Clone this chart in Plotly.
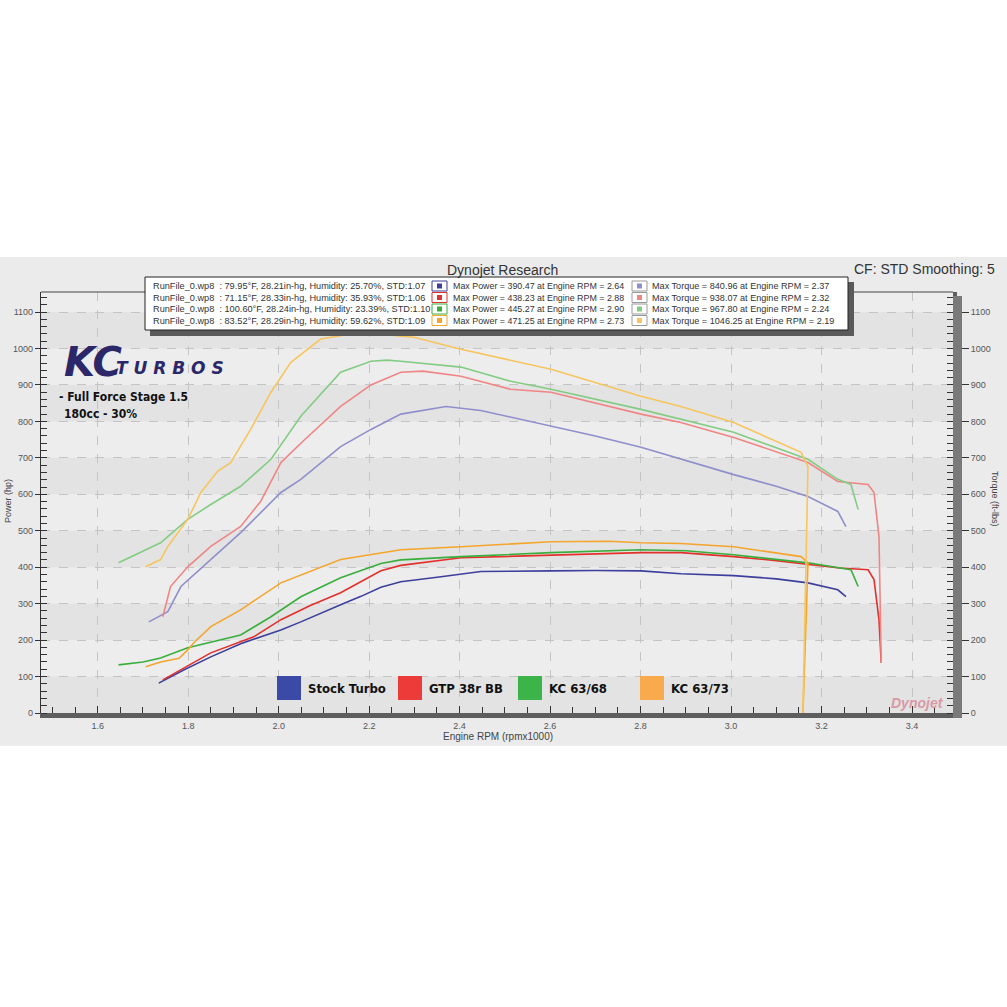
import plotly.graph_objects as go

# ---------------- data ----------------
series_names = ["Stock Turbo", "GTP 38r BB", "KC 63/68", "KC 63/73"]

stock_power_rpm = [1.735, 1.790, 1.850, 1.916, 2.005, 2.049, 2.137, 2.182, 2.226, 2.270, 2.359, 2.447, 2.602, 2.700, 2.801, 2.889, 3.006, 3.100, 3.170, 3.236, 3.254]
stock_power = [82, 118, 154, 190, 228, 250, 297, 320, 345, 360, 374, 388, 390, 391, 390, 382, 377, 368, 357, 338, 319]
stock_torque_rpm = [1.713, 1.755, 1.784, 1.850, 1.916, 2.005, 2.049, 2.137, 2.204, 2.270, 2.370, 2.447, 2.602, 2.700, 2.801, 2.889, 3.006, 3.100, 3.170, 3.236, 3.254]
stock_torque = [250, 278, 347, 421, 495, 605, 641, 731, 778, 820, 841, 830, 787, 760, 729, 696, 654, 622, 594, 553, 511]

gtp_power_rpm = [1.744, 1.800, 1.850, 1.945, 2.005, 2.070, 2.137, 2.226, 2.270, 2.403, 2.602, 2.801, 2.889, 3.006, 3.100, 3.170, 3.240, 3.303, 3.316, 3.327, 3.332]
gtp_power = [91, 130, 165, 209, 256, 295, 330, 390, 405, 426, 434, 440, 440, 429, 418, 407, 398, 393, 366, 256, 137]
gtp_torque_rpm = [1.744, 1.761, 1.799, 1.850, 1.916, 1.960, 2.005, 2.049, 2.137, 2.204, 2.270, 2.319, 2.403, 2.513, 2.602, 2.801, 2.889, 3.006, 3.170, 3.236, 3.303, 3.316, 3.327, 3.332]
gtp_torque = [264, 347, 401, 457, 512, 580, 687, 740, 841, 900, 935, 938, 924, 888, 880, 820, 797, 756, 687, 635, 627, 605, 484, 137]

kc68_power_rpm = [1.646, 1.700, 1.739, 1.799, 1.916, 1.983, 2.049, 2.137, 2.226, 2.270, 2.403, 2.602, 2.801, 2.900, 3.006, 3.170, 3.265, 3.281]
kc68_power = [132, 140, 151, 179, 214, 264, 319, 371, 410, 420, 429, 440, 448, 445, 434, 412, 393, 347]
kc68_torque_rpm = [1.646, 1.739, 1.799, 1.850, 1.916, 1.983, 2.049, 2.137, 2.204, 2.240, 2.270, 2.403, 2.513, 2.602, 2.801, 2.889, 3.006, 3.170, 3.236, 3.265, 3.281]
kc68_torque = [412, 467, 531, 572, 622, 696, 814, 935, 965, 968, 965, 949, 910, 888, 833, 806, 770, 696, 641, 627, 558]

kc73_power_rpm = [1.706, 1.739, 1.780, 1.799, 1.812, 1.850, 1.916, 2.005, 2.137, 2.270, 2.403, 2.602, 2.730, 2.801, 2.889, 3.006, 3.155, 3.170, 3.159]
kc73_power = [127, 140, 150, 173, 192, 237, 283, 357, 421, 448, 456, 470, 471, 467, 465, 456, 429, 412, 0]
kc73_torque_rpm = [1.706, 1.739, 1.755, 1.799, 1.828, 1.865, 1.894, 1.938, 1.983, 2.027, 2.093, 2.190, 2.270, 2.299, 2.403, 2.602, 2.801, 2.889, 3.006, 3.155, 3.170, 3.159]
kc73_torque = [401, 421, 457, 531, 605, 663, 687, 778, 880, 962, 1026, 1046, 1034, 1031, 998, 943, 869, 841, 797, 715, 676, 0]

run_info = [
    "RunFile_0.wp8\u00a0 : 79.95°F, 28.21in-hg, Humidity: 25.70%, STD:1.07",
    "RunFile_0.wp8\u00a0 : 71.15°F, 28.33in-hg, Humidity: 35.93%, STD:1.06",
    "RunFile_0.wp8\u00a0 : 100.60°F, 28.24in-hg, Humidity: 23.39%, STD:1.10",
    "RunFile_0.wp8\u00a0 : 83.52°F, 28.29in-hg, Humidity: 59.62%, STD:1.09",
]
max_power = ["390.47", "438.23", "445.27", "471.25"]
max_power_rpm = ["2.64", "2.88", "2.90", "2.73"]
max_torque = ["840.96", "938.07", "967.80", "1046.25"]
max_torque_rpm = ["2.37", "2.32", "2.24", "2.19"]

x_ticks = [1.6, 1.8, 2.0, 2.2, 2.4, 2.6, 2.8, 3.0, 3.2, 3.4]
y_ticks = list(range(0, 1101, 100))

# ---------------- styling / layout ----------------
W, H = 1007, 1007
L, R, T, B = 41, 953, 292, 713
X0 = 1.6 - (97.7 - L) / 452.4
X1 = 3.4 + (R - 912) / 452.4
YMAX = (B - T) / 0.3645

power_colors = ["#3d3f9c", "#e3302c", "#3aae3c", "#f4a52c"]
torque_colors = ["#8f8fcc", "#f08585", "#84cc84", "#f7c55e"]
legend_colors = ["#3b4aa6", "#ec3b38", "#3cb44a", "#f8aa4c"]

def fx(px):
    return (px - L) / (R - L)

def fy(py):
    return (B - py) / (B - T)

fig = go.Figure()

power = [(stock_power_rpm, stock_power), (gtp_power_rpm, gtp_power), (kc68_power_rpm, kc68_power), (kc73_power_rpm, kc73_power)]
torque = [(stock_torque_rpm, stock_torque), (gtp_torque_rpm, gtp_torque), (kc68_torque_rpm, kc68_torque), (kc73_torque_rpm, kc73_torque)]

for i, (xs, ys) in enumerate(torque):
    fig.add_trace(go.Scatter(x=xs, y=ys, mode="lines", yaxis="y2", name=series_names[i] + " torque",
                             line=dict(color=torque_colors[i], width=1.6), showlegend=False, hoverinfo="skip"))
for i, (xs, ys) in enumerate(power):
    fig.add_trace(go.Scatter(x=xs, y=ys, mode="lines", name=series_names[i] + " power",
                             line=dict(color=power_colors[i], width=1.6), showlegend=False, hoverinfo="skip"))

shapes = []
# chart gray background
shapes.append(dict(type="rect", xref="paper", yref="paper", x0=fx(0), x1=fx(1007), y0=fy(746), y1=fy(257),
                   fillcolor="#ebebeb", line=dict(width=0), layer="below"))
# plot background
shapes.append(dict(type="rect", xref="paper", yref="paper", x0=0, x1=1, y0=0, y1=1,
                   fillcolor="#ededed", line=dict(width=0), layer="below"))
# alternating bands
for k in range(0, 1200, 200):
    shapes.append(dict(type="rect", xref="paper", yref="y", x0=0, x1=1, y0=k, y1=min(k + 100, YMAX),
                       fillcolor="#e3e3e3", line=dict(width=0), layer="below"))
# top border
shapes.append(dict(type="line", xref="paper", yref="paper", x0=0, x1=1, y0=1, y1=1, line=dict(color="#444", width=1.2)))
# right thick bar shadow
shapes.append(dict(type="rect", xref="paper", yref="paper", x0=fx(953), x1=fx(962), y0=fy(718), y1=fy(296),
                   fillcolor="#7a7a7a", line=dict(width=0)))
# legend box shadow + box
shapes.append(dict(type="rect", xref="paper", yref="paper", x0=fx(150), x1=fx(854), y0=fy(336), y1=fy(282),
                   fillcolor="#5a5a5a", line=dict(width=0)))
shapes.append(dict(type="rect", xref="paper", yref="paper", x0=fx(145), x1=fx(848), y0=fy(330), y1=fy(277),
                   fillcolor="white", line=dict(color="#222", width=1)))

annotations = []
row_y = [286, 297.5, 309, 320.5]
def small_font(size):
    return dict(family="Liberation Sans, Arial", size=size, color="#333")
for i in range(4):
    yc = row_y[i]
    annotations.append(dict(xref="paper", yref="paper", x=fx(151), y=fy(yc), text=run_info[i],
                            showarrow=False, xanchor="left", yanchor="middle", font=small_font(9.2)))
    # power icon
    shapes.append(dict(type="rect", xref="paper", yref="paper", x0=fx(432), x1=fx(447), y0=fy(yc + 5), y1=fy(yc - 5),
                       fillcolor="white", line=dict(color=power_colors[i], width=1)))
    shapes.append(dict(type="rect", xref="paper", yref="paper", x0=fx(437), x1=fx(442), y0=fy(yc + 2.5), y1=fy(yc - 2.5),
                       fillcolor=power_colors[i], line=dict(width=0)))
    annotations.append(dict(xref="paper", yref="paper", x=fx(451), y=fy(yc),
                            text=f"Max Power = {max_power[i]} at Engine RPM = {max_power_rpm[i]}",
                            showarrow=False, xanchor="left", yanchor="middle", font=small_font(8.9)))
    # torque icon
    shapes.append(dict(type="rect", xref="paper", yref="paper", x0=fx(632), x1=fx(647), y0=fy(yc + 5), y1=fy(yc - 5),
                       fillcolor="white", line=dict(color="#9a9a9a", width=1)))
    shapes.append(dict(type="rect", xref="paper", yref="paper", x0=fx(637), x1=fx(642), y0=fy(yc + 2.5), y1=fy(yc - 2.5),
                       fillcolor=torque_colors[i], line=dict(width=0)))
    annotations.append(dict(xref="paper", yref="paper", x=fx(650), y=fy(yc),
                            text=f"Max Torque = {max_torque[i]} at Engine RPM = {max_torque_rpm[i]}",
                            showarrow=False, xanchor="left", yanchor="middle", font=small_font(9.1)))

# titles
annotations.append(dict(xref="paper", yref="paper", x=fx(503), y=fy(270), text="Dynojet Research", showarrow=False,
                        xanchor="center", yanchor="middle", font=dict(family="Liberation Sans, Arial", size=14, color="#333")))
annotations.append(dict(xref="paper", yref="paper", x=fx(997), y=fy(269), text="CF: STD Smoothing: 5", showarrow=False,
                        xanchor="right", yanchor="middle", font=dict(family="Liberation Sans, Arial", size=14, color="#333")))
# axis titles
annotations.append(dict(xref="paper", yref="paper", x=fx(8), y=fy(501), text="Power (hp)", showarrow=False, textangle=-90,
                        xanchor="center", yanchor="middle", font=dict(family="Liberation Sans, Arial", size=9, color="#444")))
annotations.append(dict(xref="paper", yref="paper", x=fx(995), y=fy(499), text="Torque (ft-lbs)", showarrow=False, textangle=90,
                        xanchor="center", yanchor="middle", font=dict(family="Liberation Sans, Arial", size=9, color="#444")))
annotations.append(dict(xref="paper", yref="paper", x=fx(498), y=fy(736), text="Engine RPM (rpmx1000)", showarrow=False,
                        xanchor="center", yanchor="middle", font=dict(family="Liberation Sans, Arial", size=10, color="#444")))

# logo
navy = "#2c2769"
annotations.append(dict(xref="paper", yref="paper", x=fx(62), y=fy(362), text="<b><i>KC</i></b>", showarrow=False,
                        xanchor="left", yanchor="middle", font=dict(family="DejaVu Sans, Arial", size=40, color=navy)))
annotations.append(dict(xref="paper", yref="paper", x=fx(114), y=fy(368), text="<b><i>T U R B O S</i></b>", showarrow=False,
                        xanchor="left", yanchor="middle", font=dict(family="DejaVu Sans, Arial", size=17, color=navy)))
bold_narrow = "DejaVu Sans Condensed, Liberation Sans, Arial Narrow, sans-serif"
annotations.append(dict(xref="paper", yref="paper", x=fx(57), y=fy(397), text="<b>- Full Force Stage 1.5</b>", showarrow=False,
                        xanchor="left", yanchor="middle", font=dict(family=bold_narrow, size=12, color="#111")))
annotations.append(dict(xref="paper", yref="paper", x=fx(62), y=fy(414), text="<b>180cc - 30%</b>", showarrow=False,
                        xanchor="left", yanchor="middle", font=dict(family=bold_narrow, size=12, color="#111")))

# bottom legend
leg_sq_x = [277, 398, 518, 640]
for i in range(4):
    shapes.append(dict(type="rect", xref="paper", yref="paper", x0=fx(leg_sq_x[i]), x1=fx(leg_sq_x[i] + 24),
                       y0=fy(700), y1=fy(676), fillcolor=legend_colors[i], line=dict(width=0)))
    annotations.append(dict(xref="paper", yref="paper", x=fx(leg_sq_x[i] + 29), y=fy(688), text=f"<b>{series_names[i]}</b>",
                            showarrow=False, xanchor="left", yanchor="middle", font=dict(family=bold_narrow, size=13, color="#111")))

# dynojet watermark
annotations.append(dict(xref="paper", yref="paper", x=fx(946), y=fy(703), text="<b><i>Dynojet</i></b>", showarrow=False,
                        xanchor="right", yanchor="middle", font=dict(family="Liberation Sans, Arial", size=14, color="#d79aa6")))

tick_font = dict(family="Liberation Sans, Arial", size=9, color="#555")
fig.update_layout(
    width=W, height=H,
    margin=dict(l=L, r=W - R, t=T, b=H - B, pad=0),
    paper_bgcolor="white", plot_bgcolor="rgba(0,0,0,0)",
    showlegend=False,
    xaxis=dict(range=[X0, X1], tickvals=x_ticks, ticktext=[f"{v:.1f}" for v in x_ticks],
               showgrid=True, gridcolor="#c4c4c4", griddash="dash", gridwidth=1,
               showline=True, linecolor="#5e5e5e", linewidth=5,
               ticks="inside", ticklen=7, tickcolor="#333", tickwidth=1,
               minor=dict(dtick=0.05, tick0=1.6, ticks="inside", ticklen=6, tickcolor="#333", showgrid=False),
               tickfont=tick_font, zeroline=False, fixedrange=True),
    yaxis=dict(range=[0, YMAX], tickvals=y_ticks, showgrid=True, gridcolor="#c4c4c4", griddash="dash", gridwidth=1,
               showline=True, linecolor="#333", linewidth=1.2,
               ticks="outside", ticklen=5, tickcolor="#333",
               minor=dict(dtick=20, tick0=0, ticks="inside", ticklen=6, tickcolor="#333", showgrid=False),
               tickfont=tick_font, zeroline=False, fixedrange=True),
    yaxis2=dict(range=[0, YMAX], overlaying="y", side="right", tickvals=y_ticks, showgrid=False,
                showline=True, linecolor="#5e5e5e", linewidth=4,
                ticks="outside", ticklen=12, tickcolor="#333",
                minor=dict(dtick=20, tick0=0, ticks="inside", ticklen=6, tickcolor="#333", showgrid=False),
                tickfont=tick_font, zeroline=False, fixedrange=True),
    shapes=shapes, annotations=annotations,
)

fig.write_html("out.html", config={"displayModeBar": False},
               post_script="document.body.style.margin='0';document.body.style.overflow='hidden';")
